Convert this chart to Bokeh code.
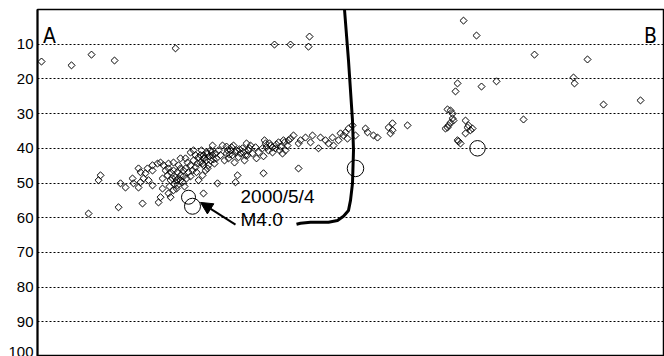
from bokeh.plotting import figure
from bokeh.models import Range1d, FixedTicker, Arrow, NormalHead
from bokeh.core.properties import value
from bokeh.embed import file_html
from bokeh.resources import INLINE
import math

# ---- data: horizontal distance along A-B (km) and depth (km) ----
depth_ticks = [10, 20, 30, 40, 50, 60, 70, 80, 90, 100]

# shallow / scattered events
sc_x = [1.25, 8.75, 13.75, 19.5, 34.75, 59.5, 63.5, 68.0, 68.25, 106.75, 110.0, 124.5, 137.75,
        105.25, 104.75, 111.25, 115.0, 134.25, 134.5, 141.75, 151.0, 102.75, 104.0, 103.5, 121.75]
sc_d = [15.0, 16.1, 13.0, 14.7, 11.2, 10.1, 10.1, 10.7, 7.8, 3.2, 7.5, 13.0, 14.4,
        21.3, 23.6, 22.2, 20.7, 19.6, 21.3, 27.4, 26.2, 28.8, 30.0, 29.1, 31.7]

# right-hand cluster
rc_x = [102.75, 103.5, 104.0, 103.0, 102.25, 104.25, 107.25, 107.75, 107.25, 109.0, 105.25, 106.0, 105.5, 108.0, 108.5]
rc_d = [34.0, 32.6, 31.4, 33.4, 34.3, 32.0, 32.0, 34.0, 35.7, 34.3, 37.7, 38.6, 38.0, 33.4, 34.8]

# group near the line
nc_x = [76.75, 77.75, 79.75, 78.0, 77.25, 76.0, 79.0, 82.25, 82.75, 84.25, 85.25, 88.0, 89.0, 88.5, 89.0, 92.75]
nc_d = [36.3, 37.2, 36.3, 34.3, 35.4, 35.7, 33.4, 34.3, 35.4, 36.3, 36.9, 34.0, 32.8, 35.7, 34.8, 33.4]

# dipping band, upper part
b1_x = [64.25, 66.0, 68.5, 70.5, 71.0, 74.25, 74.0, 72.25, 67.25, 65.5, 69.0, 75.5, 73.0, 61.75, 62.75, 63.5, 62.25]
b1_d = [36.3, 37.7, 38.3, 40.0, 36.9, 39.2, 36.9, 37.7, 36.9, 38.6, 36.3, 37.7, 38.6, 37.7, 39.2, 37.2, 40.6]

# dipping band, dense middle part
b2_x = [46.5, 49.25, 53.5, 58.5, 61.5, 59.75, 60.5, 58.0, 57.25, 56.5, 55.5, 54.75, 54.0, 53.0,
        52.25, 51.5, 51.0, 50.5, 50.0, 49.0, 48.5, 48.0, 47.5, 47.0, 46.0, 45.5, 45.0, 44.5,
        44.0, 43.5, 43.0, 42.5, 42.0, 41.5, 56.75, 59.0, 52.0, 49.5, 55.0, 57.0, 52.5, 47.5]
b2_d = [39.2, 39.2, 39.2, 39.2, 41.5, 40.0, 38.3, 40.6, 38.6, 40.0, 41.2, 39.7, 41.5, 40.6,
        42.0, 40.0, 41.5, 42.6, 40.6, 42.0, 40.6, 42.9, 41.5, 43.5, 42.0, 40.6, 42.9, 44.4,
        42.0, 43.5, 44.9, 41.2, 42.9, 44.4, 42.3, 41.2, 43.5, 44.1, 42.9, 37.7, 38.6, 39.5]
b3_x = [41.25, 41.75, 42.5, 43.25, 43.75, 44.25, 44.75, 41.75, 42.75, 47.75, 48.25, 48.75, 49.75,
        50.75, 51.75, 52.75, 53.25, 57.5, 58.25, 59.0, 60.0, 61.0, 62.0, 63.0, 60.75]
b3_d = [40.6, 42.0, 43.5, 42.3, 41.2, 43.2, 41.5, 44.9, 45.8, 40.6, 41.8, 39.7, 41.2,
        40.3, 41.2, 42.0, 40.0, 39.7, 38.6, 39.7, 38.9, 39.5, 38.3, 37.7, 40.6]

# below the band
lb_x = [56.75, 65.5, 50.25, 49.75, 42.25, 45.25]
lb_d = [47.2, 45.8, 47.8, 49.8, 46.4, 50.1]

# western (left) part
lp_x = [13.0, 16.0, 15.5, 20.5, 26.5, 21.0, 22.25, 24.0, 24.25, 25.5, 26.0, 26.75, 27.25, 29.0,
        28.0, 26.0, 25.5, 27.75, 29.0, 30.25, 31.0, 29.0, 30.5, 31.0, 31.5, 33.0, 33.5, 34.25,
        31.75, 33.0, 34.25, 36.0, 38.5, 39.25, 41.0, 41.75, 41.5, 40.5, 35.25, 36.0]
lp_d = [58.8, 47.8, 49.2, 57.0, 55.9, 50.1, 51.3, 48.7, 50.1, 51.3, 49.8, 48.7, 47.2, 50.7,
        49.2, 46.9, 45.8, 45.8, 44.9, 44.4, 44.1, 46.4, 55.6, 54.1, 51.6, 53.0, 54.1, 52.1,
        44.9, 44.4, 44.1, 42.9, 41.2, 40.6, 42.0, 53.0, 47.8, 49.2, 50.7, 49.2]

# dense western cluster
dc_x = [32.75, 33.5, 34.25, 35.25, 36.0, 36.75, 36.0, 34.75, 37.75, 38.5, 39.25, 40.25, 40.5,
        41.75, 42.75, 37.25, 38.0, 39.0, 39.75, 35.5, 34.0, 33.0, 37.25, 39.75, 41.0, 43.5,
        44.0, 35.0, 36.75, 38.5, 40.0, 32.25, 31.5]
dc_d = [47.8, 46.9, 46.4, 46.9, 45.8, 46.4, 47.8, 48.4, 44.1, 44.9, 43.5, 44.4, 42.6,
        42.9, 41.5, 45.8, 46.9, 46.4, 45.5, 44.9, 48.7, 45.8, 42.9, 42.0, 44.1, 40.6,
        39.2, 49.2, 48.1, 48.1, 46.9, 46.4, 48.7]
b4_x = [33.5, 34.5, 35.5, 36.5, 37.5, 33.25, 35.0, 37.0]
b4_d = [49.2, 50.4, 48.7, 49.8, 48.7, 51.0, 51.6, 51.0]

# larger events
big_x = [38.0, 39.0, 79.75, 110.25]
big_d = [54.1, 56.7, 45.8, 40.0]
big_mag = [3.6, 4.0, 4.1, 3.9]

# thick line (first segment continues above the frame)
curve_top = (76.6, -2.6)
curve_x = [77.0, 78.0, 79.0, 79.25, 79.0, 78.5, 78.0, 76.75, 75.25, 73.0, 68.5, 66.0, 65.0]
curve_d = [0.0, 14.7, 32.0, 40.6, 50.1, 55.0, 57.9, 59.6, 60.8, 61.3, 61.3, 61.6, 61.9]

# annotation
note_text = ["2000/5/4", "M4.0"]
note_x = [51.0, 51.0]
note_d = [51.0, 57.5]
arrow_from = (49.75, 62.0)
arrow_to = (41.0, 55.6)
end_text = ["A", "B"]
end_x = [1.6, 151.9]
end_d = [7.6, 7.6]

small_x = sc_x + rc_x + nc_x + b1_x + b2_x + b3_x + lb_x + lp_x + dc_x + b4_x
small_d = sc_d + rc_d + nc_d + b1_d + b2_d + b3_d + lb_d + lp_d + dc_d + b4_d

p = figure(width=664, height=356, output_backend="svg", toolbar_location=None,
           x_range=Range1d(0.25, 157.0), y_range=Range1d(100, 0),
           x_axis_location=None,
           min_border_left=37, min_border_right=0, min_border_top=9, min_border_bottom=0)
p.background_fill_color = "white"
p.border_fill_color = "white"
p.outline_line_color = "black"
p.outline_line_width = 1.5

p.yaxis.ticker = FixedTicker(ticks=depth_ticks)
p.yaxis.major_label_text_font = "Liberation Sans"
p.yaxis.major_label_text_font_size = "15px"
p.yaxis.major_label_text_color = "black"
p.yaxis.major_label_standoff = 4
p.yaxis.axis_line_width = 2
p.yaxis.axis_line_color = "black"
p.yaxis.major_tick_out = 0
p.yaxis.major_tick_in = 0
p.yaxis.minor_tick_out = 0
p.yaxis.minor_tick_in = 0

p.xgrid.grid_line_color = None
p.ygrid.ticker = FixedTicker(ticks=depth_ticks)
p.ygrid.grid_line_color = "black"
p.ygrid.grid_line_dash = "2 2"
p.ygrid.grid_line_width = 1

p.scatter(small_x, small_d, marker="square", angle=math.pi / 4, size=5,
          fill_color=None, line_color="black", line_width=1)

big_size = [16 + (m - 4.0) * 5 for m in big_mag]
p.scatter(big_x, big_d, marker="circle", size=big_size,
          fill_color=None, line_color="black", line_width=1)

p.line(curve_x, curve_d, line_width=3, line_color="black")
p.add_layout(Arrow(end=None, x_start=curve_top[0], y_start=curve_top[1],
                   x_end=curve_x[0], y_end=curve_d[0], line_width=3, line_color="black"))

p.add_layout(Arrow(end=NormalHead(size=12, fill_color="black", line_color="black"),
                   x_start=arrow_from[0], y_start=arrow_from[1],
                   x_end=arrow_to[0], y_end=arrow_to[1],
                   line_width=2, line_color="black"))

p.text(note_x, note_d, text=note_text, text_font=value("Liberation Sans"),
       text_font_size=value("19px"), text_baseline="top", text_align="left",
       text_color="black")

p.text(end_x, end_d, text=end_text,
       text_font=value("Liberation Sans Narrow, DejaVu Sans Condensed, Liberation Sans"),
       text_font_size=value("21px"), text_baseline="alphabetic", text_align="left",
       text_color="black")

open("out.html", "w").write(file_html(p, INLINE))
